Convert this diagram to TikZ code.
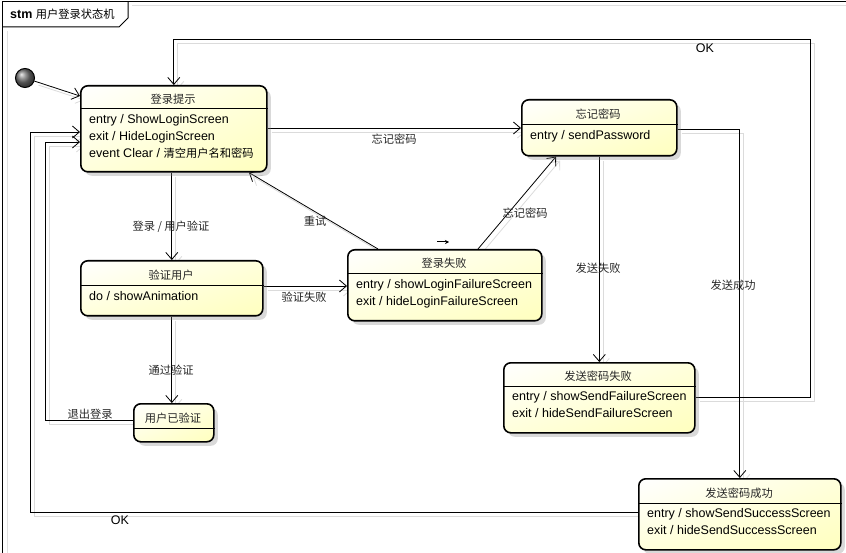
\documentclass[tikz,border=0pt]{standalone}
\usepackage{fontspec}
\setmainfont{Liberation Sans}
\newfontfamily\cjk{Noto Sans CJK SC}[Scale=0.9]
\usetikzlibrary{arrows.meta,calc,positioning,shadows,shadings,backgrounds}
\definecolor{stateyellow}{RGB}{255,255,190}

\begin{document}
\begin{tikzpicture}[x=1pt, y=-1pt, >={Straight Barb[length=7pt,width=12pt]},
    font=\fontsize{12.5}{17}\selectfont,
    statebox/.style={draw, line width=1.6pt, rounded corners=7pt, anchor=north west, inner sep=0pt,
        upper left=white, upper right=stateyellow!55, lower left=stateyellow!55, lower right=stateyellow,
        drop shadow={shadow xshift=4pt, shadow yshift=-4pt, opacity=.3}},
    stitle/.style={font=\cjk\fontsize{12.5}{17}\selectfont, inner sep=1pt, text=black!85},
    acts/.style={anchor=north west, inner sep=0pt, align=left},
    lbl/.style={font=\cjk\fontsize{12.5}{17}\selectfont, inner sep=1pt, text=black!85},
    wire/.style={->, line width=0.8pt}]
    \useasboundingbox (0,0) rectangle (846,553);

    % frame
    \draw[black!12, line width=1pt] (7,553) -- (7,31);
    \draw[black!12, line width=1pt] (132,6) -- (846,6);
    \draw[line width=1pt] (2.5,553) -- (2.5,1.5) -- (846,1.5);
    \draw[line width=1pt] (2.5,27) -- (119,27) -- (128,18) -- (128,1.5);
    \node[anchor=west, inner sep=0pt] (frame-t) at (10,14) {\textbf{stm} {\cjk 用户登录状态机}};

    % states
    \node[circle, draw, line width=1pt, minimum size=19pt, inner sep=0pt, ball color=black!55] (init) at (25,78) {};
    \node[statebox, minimum width=186pt, minimum height=86pt] (prompt) at (80,85) {};
    \node[statebox, minimum width=155pt, minimum height=56pt] (forgot) at (521,99) {};
    \node[statebox, minimum width=182pt, minimum height=55pt] (verify) at (80,260) {};
    \node[statebox, minimum width=194pt, minimum height=71pt] (failed) at (347,249) {};
    \node[statebox, minimum width=80pt, minimum height=38pt] (verified) at (133,403) {};
    \node[statebox, minimum width=191pt, minimum height=70pt] (sendfail) at (503,362) {};
    \node[statebox, minimum width=202pt, minimum height=71pt] (sendok) at (638,478) {};

    \foreach \s/\y in {prompt/109, forgot/125, verify/286, failed/274, verified/428, sendfail/386, sendok/503}
        \draw[line width=1pt] (\s.west |- 0,\y) -- (\s.east |- 0,\y);

    \node[stitle] (prompt-t) at (173,99) {登录提示};
    \node[stitle] (forgot-t) at (598,114) {忘记密码};
    \node[stitle] (verify-t) at (171,275) {验证用户};
    \node[stitle] (failed-t) at (444,263) {登录失败};
    \node[stitle] (verified-t) at (173,418) {用户已验证};
    \node[stitle] (sendfail-t) at (598,376) {发送密码失败};
    \node[stitle] (sendok-t) at (739,493) {发送密码成功};

    \node[acts] (prompt-b) at (89,114) {entry / ShowLoginScreen\\exit / HideLoginScreen\\event Clear / {\cjk 清空用户名和密码}};
    \node[acts] (forgot-b) at (530,130) {entry / sendPassword};
    \node[acts] (verify-b) at (89,291) {do / showAnimation};
    \node[acts] (failed-b) at (356,279) {entry / showLoginFailureScreen\\exit / hideLoginFailureScreen};
    \node[acts] (sendfail-b) at (512,391) {entry / showSendFailureScreen\\exit / hideSendFailureScreen};
    \node[acts] (sendok-b) at (647,508) {entry / showSendSuccessScreen\\exit / hideSendSuccessScreen};

    % transitions, first their grey shadow, then the lines
    \begin{scope}[on background layer]
    \foreach \col/\off in {black!14/4pt, black/0pt} {
        \begin{scope}[transform canvas={xshift=\off, yshift=-\off}, wire/.append style={draw=\col}]
        \draw[wire] (init) -- (prompt.west |- 0,96);
        \draw[wire] (prompt.east |- 0,128) -- (forgot.west |- 0,128);
        \draw[wire] (prompt.south -| verify.north) -- (verify.north);
        \draw[wire] (verify.east |- 0,286) -- (failed.west |- 0,286);
        \draw[wire] (verify.south) -- (verify.south |- verified.north);
        \draw[wire] (failed.north -| 378,0) -- (prompt.south -| 249,0);
        \draw[wire] (failed.north -| 478,0) -- (forgot.south -| 556,0);
        \draw[wire] (forgot.south) -- (sendfail.north);
        \draw[wire] (forgot.east |- 0,129) -| (sendok.north);
        \draw[wire] (sendfail.east |- 0,397) -| (810,39) -| (prompt.north);
        \draw[wire] (sendok.west |- 0,512) -| (30,132) -- (prompt.west |- 0,132);
        \draw[wire] (verified.west |- 0,420) -| (45,142) -- (prompt.west |- 0,142);
        \end{scope}
    }
    \end{scope}
    \draw[-{Stealth[length=4pt,width=4pt]}, line width=1pt] (437,242) -- (449,242);

    \node[lbl] (l-forgot1) at (394,139) {忘记密码};
    \node[lbl] (l-login) at (171,227) {登录 / 用户验证};
    \node[lbl] (l-vfail) at (304,297) {验证失败};
    \node[lbl] (l-retry) at (315,221) {重试};
    \node[lbl] (l-forgot2) at (525,213) {忘记密码};
    \node[lbl] (l-pass) at (171,370) {通过验证};
    \node[lbl] (l-logout) at (90,414) {退出登录};
    \node[lbl] (l-sfail) at (598,268) {发送失败};
    \node[lbl] (l-sok) at (733,285) {发送成功};
    \node[inner sep=1pt] (l-ok1) at (705,48) {OK};
    \node[inner sep=1pt] (l-ok2) at (120,520) {OK};
\end{tikzpicture}
\end{document}
